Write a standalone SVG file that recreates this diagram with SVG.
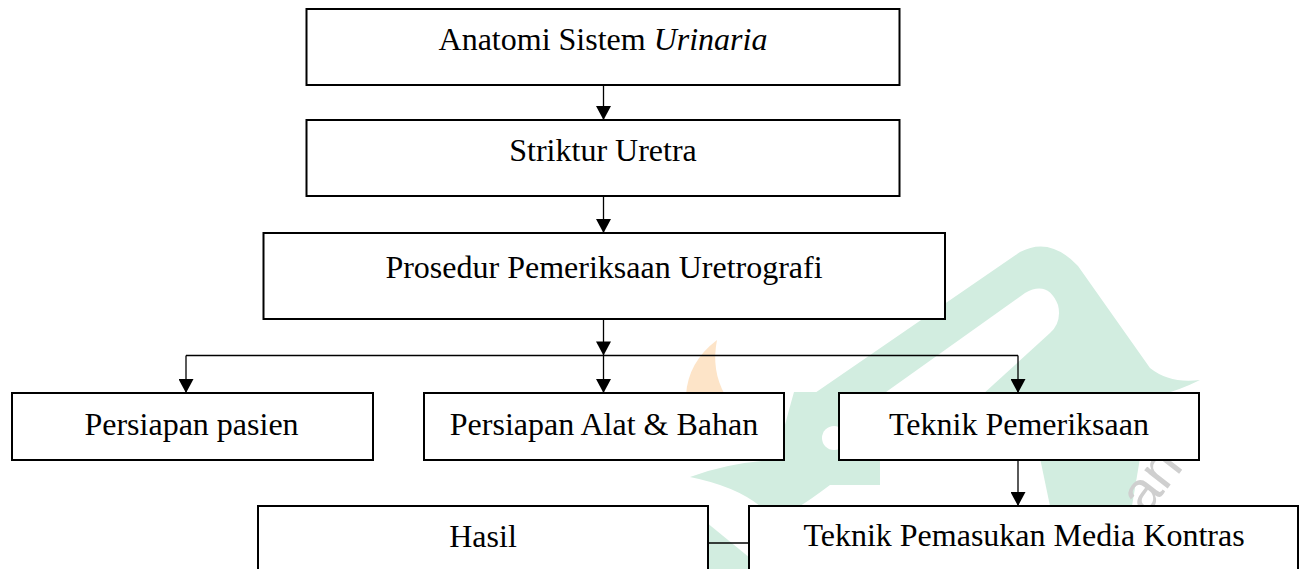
<svg xmlns="http://www.w3.org/2000/svg" width="1307" height="569" viewBox="0 0 1307 569">
  <defs>
    <style>
      .box { fill: #ffffff; stroke: #000000; stroke-width: 2; }
      .lbl { font-family: "Liberation Serif", "Times New Roman", serif; font-size: 32px; fill: #000000; text-anchor: middle; }
      .conn { fill: none; stroke: #000000; stroke-width: 1.3; }
      .wm { fill: #d2ede0; }
      .wmo { fill: #fde4c8; }
      .wmt { font-family: "Liberation Sans", Arial, sans-serif; font-size: 56px; fill: #cfcfcf; }
    </style>
    <marker id="arr" markerUnits="userSpaceOnUse" markerWidth="15" markerHeight="15" viewBox="0 0 14 15" refX="14" refY="7.5" orient="auto">
      <path d="M0,0 L14,7.5 L0,15 Z" fill="#000000"/>
    </marker>
  </defs>

  <g id="watermark">
    <path class="wmo" d="M717 340 Q 688 362 686 395 L 725 395 Q 711 370 717 340 Z"/>
    <path class="wm" d="M812 395 L 1020 252 Q 1050 236 1078 266 L 1150 368 Q 1170 384 1200 380 Q 1160 400 1120 400 L 990 400 L 812 400 Z"/>
    <path fill="#ffffff" d="M872 402 L 1025 293 Q 1048 280 1058 305 Q 1062 322 1050 333 L 982 395 Z"/>
    <path class="wm" d="M690 477 Q 730 462 776 460 Q 786 420 794 392 L 839 392 L 839 460 L 880 460 L 880 485 L 830 485 Q 810 500 800 506 L 760 506 Q 735 486 690 477 Z"/>
    <circle cx="834" cy="438" r="12" fill="#ffffff"/>
    <path class="wm" d="M1040 458 L 1140 458 L 1132 506 L 1050 506 Z"/>
    <path class="wm" d="M706 522 L 750 558 L 750 569 L 706 569 Z"/>
    <text class="wmt" transform="translate(1146 516) rotate(-52)">an</text>
  </g>

  <g id="connectors">
    <line class="conn" x1="603.5" y1="85" x2="603.5" y2="120" marker-end="url(#arr)"/>
    <line class="conn" x1="603.5" y1="196" x2="603.5" y2="233" marker-end="url(#arr)"/>
    <line class="conn" x1="603.5" y1="319" x2="603.5" y2="355.5" marker-end="url(#arr)"/>
    <line class="conn" x1="603.5" y1="355.5" x2="603.5" y2="393" marker-end="url(#arr)"/>
    <line class="conn" x1="186" y1="355.5" x2="1018" y2="355.5"/>
    <line class="conn" x1="186" y1="355.5" x2="186" y2="393" marker-end="url(#arr)"/>
    <line class="conn" x1="1018" y1="355.5" x2="1018" y2="393" marker-end="url(#arr)"/>
    <line class="conn" x1="1018" y1="460" x2="1018" y2="506" marker-end="url(#arr)"/>
    <line class="conn" x1="708" y1="543" x2="749" y2="543"/>
  </g>

  <g id="node-anatomi">
    <rect class="box" x="306.5" y="9" width="593" height="76"/>
    <text class="lbl" x="603" y="50">Anatomi Sistem <tspan font-style="italic">Urinaria</tspan></text>
  </g>
  <g id="node-striktur">
    <rect class="box" x="306.5" y="120" width="593" height="76"/>
    <text class="lbl" x="603" y="161">Striktur Uretra</text>
  </g>
  <g id="node-prosedur">
    <rect class="box" x="263.5" y="233" width="681.5" height="86"/>
    <text class="lbl" x="604" y="278">Prosedur Pemeriksaan Uretrografi</text>
  </g>
  <g id="node-persiapan-pasien">
    <rect class="box" x="12" y="393" width="361" height="67"/>
    <text class="lbl" x="191.5" y="435">Persiapan pasien</text>
  </g>
  <g id="node-persiapan-alat">
    <rect class="box" x="424" y="393" width="360" height="67"/>
    <text class="lbl" x="604" y="435">Persiapan Alat &amp; Bahan</text>
  </g>
  <g id="node-teknik-pemeriksaan">
    <rect class="box" x="839" y="393" width="360" height="67"/>
    <text class="lbl" x="1019" y="435">Teknik Pemeriksaan</text>
  </g>
  <g id="node-hasil">
    <rect class="box" x="258" y="506" width="450" height="120"/>
    <text class="lbl" x="483" y="547">Hasil</text>
  </g>
  <g id="node-teknik-pemasukan">
    <rect class="box" x="749" y="506" width="549" height="120"/>
    <text class="lbl" x="1024" y="546">Teknik Pemasukan Media Kontras</text>
  </g>
</svg>
